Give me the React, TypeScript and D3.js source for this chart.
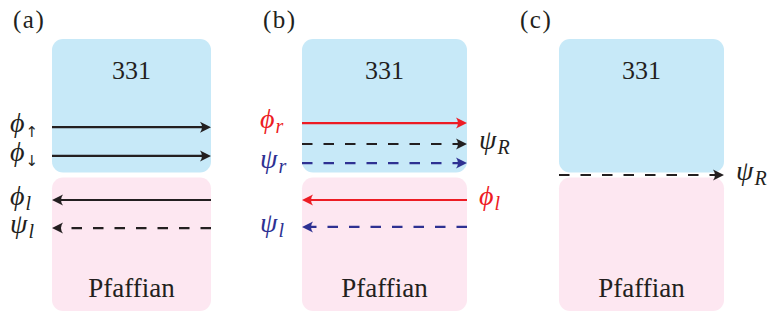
import React from "react";
import * as d3 from "d3";

// panels: tag, left edge of the boxes, width
const panelTags = ["(a)", "(b)", "(c)"];
const panelLeft = [52, 302, 559];
const panelWidth = [159, 165, 165];
const topPhase = "331";
const bottomPhase = "Pfaffian";

// edge modes, level = fraction of the stacked box height (0 top, 1 bottom)
const edgesA = [
  { panel: 0, level: 0.324, dir: 1, dashed: false, color: "black", label: "ϕ", sub: "↑", side: "left" },
  { panel: 0, level: 0.43, dir: 1, dashed: false, color: "black", label: "ϕ", sub: "↓", side: "left" },
  { panel: 0, level: 0.592, dir: -1, dashed: false, color: "black", label: "ϕ", sub: "l", side: "left" },
  { panel: 0, level: 0.695, dir: -1, dashed: true, color: "black", label: "ψ", sub: "l", side: "left" },
];
const edgesB = [
  { panel: 1, level: 0.309, dir: 1, dashed: false, color: "red", label: "ϕ", sub: "r", side: "left" },
  { panel: 1, level: 0.386, dir: 1, dashed: true, color: "black", label: "ψ", sub: "R", side: "right" },
  { panel: 1, level: 0.456, dir: 1, dashed: true, color: "blue", label: "ψ", sub: "r", side: "left" },
  { panel: 1, level: 0.592, dir: -1, dashed: false, color: "red", label: "ϕ", sub: "l", side: "right" },
  { panel: 1, level: 0.691, dir: -1, dashed: true, color: "blue", label: "ψ", sub: "l", side: "left" },
];
const edgesC = [
  { panel: 2, level: 0.5, dir: 1, dashed: true, color: "black", label: "ψ", sub: "R", side: "right" },
];

const colors: Record<string, string> = {
  black: "#231f20",
  red: "#ed1c24",
  blue: "#2e3192",
};

const W = 778;
const H = 314;
const serif = { fontFamily: "Liberation Serif" };
const arrowFont = { fontFamily: "DejaVu Sans" };

export default function App() {
  const y = d3.scaleLinear().domain([0, 1]).range([39, 311]);
  const split = 0.5;
  const gap = 5;
  const edges = [...edgesA, ...edgesB, ...edgesC];

  const arrowHead = (x: number, yy: number, dir: number) => {
    const p = d3.path();
    p.moveTo(x, yy);
    p.lineTo(x - dir * 11, yy - 5.5);
    p.quadraticCurveTo(x - dir * 7, yy, x - dir * 11, yy + 5.5);
    p.closePath();
    return p.toString();
  };

  return (
    <svg width={W} height={H} style={{ position: "absolute", left: 0, top: 0, background: "white" }}>
      {panelLeft.map((x0, i) => {
        const w = panelWidth[i];
        return (
          <g key={i}>
            <text x={x0 - 39} y={28} fontSize={25} letterSpacing={1.5} fill="#231f20" style={serif}>
              {panelTags[i]}
            </text>
            <rect x={x0} y={y(0)} width={w} height={y(split) - y(0) - gap / 2} rx={11} fill="#c7e9f8" />
            <rect x={x0} y={y(split) + gap / 2} width={w} height={y(1) - y(split) - gap / 2} rx={11} fill="#fde7f1" />
            <text x={x0 + w / 2} y={79} fontSize={26} textAnchor="middle" fill="#231f20" style={serif}>
              {topPhase}
            </text>
            <text x={x0 + w / 2} y={297} fontSize={27} textAnchor="middle" fill="#231f20" style={serif}>
              {bottomPhase}
            </text>
          </g>
        );
      })}
      {edges.map((e, i) => {
        const x0 = panelLeft[e.panel];
        const w = panelWidth[e.panel];
        const yy = y(e.level);
        const c = colors[e.color];
        const tipX = e.dir > 0 ? x0 + w : x0;
        const startX = e.dir > 0 ? x0 : x0 + w;
        const lineEnd = tipX - e.dir * 8;
        const lx = e.side === "left" ? x0 - 42 : x0 + w + 12;
        const isArrow = e.sub === "↑" || e.sub === "↓";
        return (
          <g key={i}>
            <line
              x1={startX}
              x2={lineEnd}
              y1={yy}
              y2={yy}
              stroke={c}
              strokeWidth={2.2}
              strokeDasharray={e.dashed ? "10.5 11" : undefined}
            />
            <path d={arrowHead(tipX, yy, e.dir)} fill={c} />
            <text x={lx} y={yy + 5} fill={c} fontStyle="italic" fontSize={28} style={serif}>
              {e.label}
              <tspan
                fontSize={isArrow ? 15 : 20}
                dy={5}
                dx={1}
                fontStyle={isArrow ? "normal" : "italic"}
                style={isArrow ? arrowFont : serif}
              >
                {e.sub}
              </tspan>
            </text>
          </g>
        );
      })}
    </svg>
  );
}
